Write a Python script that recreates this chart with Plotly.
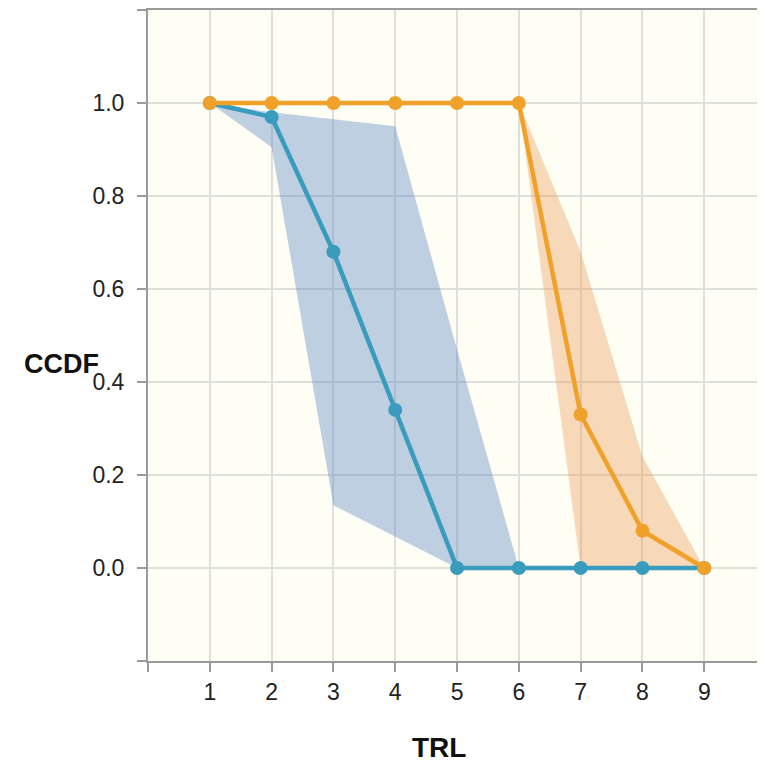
import plotly.graph_objects as go

trl = [1, 2, 3, 4, 5, 6, 7, 8, 9]

blue_ccdf = [1.0, 0.97, 0.68, 0.34, 0.0, 0.0, 0.0, 0.0, 0.0]
blue_upper = [1.0, 0.98, 0.965, 0.95, 0.47, 0.0]
blue_lower = [1.0, 0.905, 0.135, 0.068, 0.0, 0.0]
blue_band_x = [1, 2, 3, 4, 5, 6]

orange_ccdf = [1.0, 1.0, 1.0, 1.0, 1.0, 1.0, 0.33, 0.08, 0.0]
orange_upper = [1.0, 0.68, 0.24, 0.0]
orange_lower = [1.0, 0.0, 0.0, 0.0]
orange_band_x = [6, 7, 8, 9]

y_ticks = [-0.2, 0.0, 0.2, 0.4, 0.6, 0.8, 1.0, 1.2]
y_ticktext = ["", "0.0", "0.2", "0.4", "0.6", "0.8", "1.0", ""]
x_ticks = [0, 1, 2, 3, 4, 5, 6, 7, 8, 9]
x_ticktext = [""] + [str(v) for v in trl]

BLUE = "#3a9cbd"
ORANGE = "#f0a12a"
FONT = "Liberation Sans, Arial"

fig = go.Figure()

fig.add_trace(go.Scatter(
    x=blue_band_x + blue_band_x[::-1],
    y=blue_upper + blue_lower[::-1],
    fill="toself", mode="lines", line=dict(width=0),
    fillcolor="rgba(69,120,191,0.35)", hoverinfo="skip", showlegend=False))

fig.add_trace(go.Scatter(
    x=orange_band_x + orange_band_x[::-1],
    y=orange_upper + orange_lower[::-1],
    fill="toself", mode="lines", line=dict(width=0),
    fillcolor="rgba(232,145,74,0.35)", hoverinfo="skip", showlegend=False))

fig.add_trace(go.Scatter(
    x=trl, y=blue_ccdf, mode="lines+markers",
    line=dict(color=BLUE, width=4.5), marker=dict(color=BLUE, size=14),
    showlegend=False))

fig.add_trace(go.Scatter(
    x=trl, y=orange_ccdf, mode="lines+markers",
    line=dict(color=ORANGE, width=4.5), marker=dict(color=ORANGE, size=14),
    showlegend=False))

axis_common = dict(
    showline=True, linecolor="#9a9a9a", linewidth=2, mirror=True,
    showgrid=True, gridcolor="#e0e0da", gridwidth=2,
    ticks="outside", ticklen=9, tickwidth=2, tickcolor="#9a9a9a",
    zeroline=False,
    tickfont=dict(family=FONT, size=23, color="#222222"),
)

fig.update_xaxes(range=[0, 9.95], tickmode="array", tickvals=x_ticks,
                 ticktext=x_ticktext, **axis_common)
fig.update_yaxes(range=[-0.2, 1.2], tickmode="array", tickvals=y_ticks,
                 ticktext=y_ticktext, ticklabelstandoff=8, **axis_common)

fig.add_annotation(text="<b>CCDF</b>", xref="paper", yref="paper",
                   x=-0.141, y=0.456, xanchor="center", yanchor="middle",
                   showarrow=False,
                   font=dict(family=FONT, size=27, color="#111111"))
fig.add_annotation(text="<b>TRL</b>", xref="paper", yref="paper",
                   x=0.473, y=-0.133, xanchor="center", yanchor="middle",
                   showarrow=False,
                   font=dict(family=FONT, size=28, color="#111111"))

fig.update_layout(
    width=757, height=755,
    margin=dict(l=140, r=0, t=0, b=102),
    plot_bgcolor="#fffef5", paper_bgcolor="#ffffff",
)

fig.write_html("out.html")
